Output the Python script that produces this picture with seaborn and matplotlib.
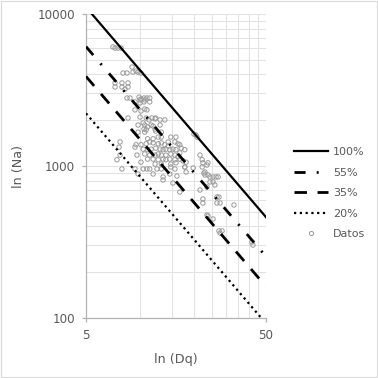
import matplotlib
matplotlib.use("Agg")
import matplotlib.pyplot as plt
from matplotlib.lines import Line2D
from matplotlib.patches import Rectangle
from matplotlib.ticker import FixedLocator, NullFormatter, LogLocator
import seaborn as sns
import pandas as pd

# ---- data ----
line_x = [5, 50]
line_100 = [11100, 461]
line_55 = [6100, 254]
line_35 = [3885, 161]
line_20 = [2220, 92]

datos_x = [
    7.06, 7.25, 7.53, 7.83,
    9.01, 8.03, 8.45, 9.12, 9.48, 9.73, 10.1,
    7.25, 7.25, 7.92, 7.92, 8.56, 8.56, 8.24,
    8.45, 8.78, 9.85, 10.1, 10.5, 10.9, 11.3, 10.5, 11.3, 9.98, 9.36, 9.98, 10.6,
    9.36, 10.1, 10.6, 10.9,
    9.98, 10.8, 11.6, 12.1, 11.2, 12.9, 13.7, 8.56, 12.2,
    10.4, 10.5, 11.0, 11.8, 12.2, 9.73, 10.6, 11.5, 12.9, 10.8, 12.1, 13.1, 9.73, 10.6,
    12.6, 13.1, 14.8, 15.8, 11.0, 11.8, 14.3, 15.6, 16.2, 16.6, 9.48, 10.1, 10.8, 11.3, 11.8, 12.6, 13.1, 13.7, 14.3,
    10.4, 11.0, 11.5, 12.2, 12.9, 13.4, 13.9, 14.6, 15.2, 15.8, 16.9, 17.7,
    10.6, 11.3, 12.1, 12.6, 13.1, 13.9, 14.8, 15.6, 16.2,
    11.0, 11.8, 12.6, 13.4, 13.9, 14.6, 15.6, 16.6, 17.3, 18.0,
    10.1, 12.1, 13.1, 14.8, 15.8,
    9.36, 10.4, 13.1, 14.8, 15.6, 17.7, 7.92, 10.9, 11.3, 12.4,
    9.73, 11.8, 14.6, 18.0, 13.4, 13.4, 16.0, 15.2, 16.6,
    7.73, 7.63, 7.73, 7.43, 9.36, 9.60, 16.6,
    19.9, 20.4, 20.7,
    21.5, 22.1, 22.3, 23.8, 23.5, 22.1, 17.7, 19.7,
    22.9, 22.6, 22.9, 23.8, 24.4, 25.4, 26.4, 27.1, 24.4, 25.4, 23.5, 26.0, 21.5,
    26.7, 27.4, 26.7, 27.8, 22.3, 22.3, 33.2,
    23.5, 23.8, 25.4, 27.4, 28.5, 27.8, 41.8, 42.3,
]
datos_y = [
    6070, 5970, 5970, 5970,
    4480, 4090, 4090, 4150, 4220, 4150, 4090,
    3520, 3310, 3520, 3310, 3520, 3310, 3210,
    2800, 2800, 2840, 2760, 2800, 2800, 2800, 2640, 2640, 2600, 2640, 2720, 2720,
    2340, 2300, 2370, 2340,
    2100, 2070, 2070, 2040, 2010, 2010, 2010, 2070, 2070,
    1920, 1750, 1810, 1830, 1700, 1860, 1860, 1860, 1860, 1730, 1750, 1670, 1670, 1670,
    1550, 1550, 1550, 1550, 1510, 1510, 1440, 1440, 1400, 1380, 1380, 1380, 1400, 1440, 1420, 1400, 1420, 1380, 1350,
    1290, 1280, 1290, 1310, 1290, 1280, 1290, 1280, 1290, 1280, 1310, 1280,
    1200, 1180, 1180, 1200, 1180, 1180, 1200, 1180, 1150,
    1110, 1110, 1100, 1110, 1100, 1110, 1100, 1110, 1080, 1060,
    1060, 1030, 1030, 1030, 1050,
    956, 956, 956, 985, 956, 985, 956, 956, 956, 956,
    886, 886, 886, 913, 847, 809, 859, 773, 674,
    1440, 1330, 1180, 1100, 1330, 1180, 1220,
    1620, 1600, 1550,
    1180, 1100, 1050, 1050, 1015, 985, 985, 970,
    913, 899, 873, 873, 847, 847, 847, 847, 785, 785, 727, 750, 695,
    625, 625, 571, 571, 607, 571, 554,
    476, 469, 448, 374, 374, 362, 316, 302,
]

series_labels = ["100%", "55%", "35%", "20%", "Datos"]
x_ticks = [5, 50]
y_ticks = [100, 1000, 10000]

# ---- styling ----
TXT = "#595959"
GRID = "#e2e2e2"
AXC = "#b3b3b3"
PT_C = "#9a9a9a"

line_styles = {
    "100%": (1.6, None),
    "55%": (2.0, (4.0, 4.0, 0.7, 4.0)),
    "35%": (2.0, (4.5, 3.8)),
    "20%": (1.6, (1.0, 1.6)),
}

fig = plt.figure(figsize=(3.78, 3.78), dpi=100)
ax = fig.add_axes([86 / 378, 1 - 318 / 378, 180 / 378, 304 / 378])
ax.set_xscale("log")
ax.set_yscale("log")

lines_y = {"100%": line_100, "55%": line_55, "35%": line_35, "20%": line_20}
handles = []
for lab, ys in lines_y.items():
    lw, d = line_styles[lab]
    df = pd.DataFrame({"x": line_x, "y": ys})
    sns.lineplot(data=df, x="x", y="y", ax=ax, color="black", linewidth=lw,
                 zorder=3, legend=False)
    ln = ax.lines[-1]
    h = Line2D([0], [0], color="black", linewidth=lw)
    if d is not None:
        for obj in (ln, h):
            obj.set_dashes(d)
            obj.set_dash_capstyle("butt")
    handles.append(h)

sns.scatterplot(x=datos_x, y=datos_y, ax=ax, marker="o", s=10, zorder=2,
                legend=False)
coll = ax.collections[-1]
coll.set_facecolor("none")
coll.set_edgecolor(PT_C)
coll.set_linewidth(0.7)
handles.append(Line2D([0], [0], linestyle="none", marker="o", markersize=3,
                      markerfacecolor="none", markeredgecolor=PT_C,
                      markeredgewidth=0.7))

ax.set_xlim(5, 50)
ax.set_ylim(100, 10000)

ax.xaxis.set_major_locator(FixedLocator(x_ticks))
ax.set_xticklabels([str(v) for v in x_ticks])
ax.xaxis.set_minor_locator(FixedLocator([10, 15, 20, 25, 30, 35, 40, 45]))
ax.xaxis.set_minor_formatter(NullFormatter())
ax.yaxis.set_major_locator(FixedLocator(y_ticks))
ax.set_yticklabels([str(v) for v in y_ticks])
ax.yaxis.set_minor_locator(LogLocator(base=10, subs=range(2, 10)))
ax.yaxis.set_minor_formatter(NullFormatter())

ax.grid(True, which="both", color=GRID, linewidth=0.75)
ax.set_axisbelow(True)
for s in ["top", "right"]:
    ax.spines[s].set_visible(False)
for s in ["left", "bottom"]:
    ax.spines[s].set_color(AXC)
    ax.spines[s].set_linewidth(0.9)
ax.tick_params(which="major", length=3, width=0.9, color=AXC, labelsize=8.6,
               labelcolor=TXT, pad=5)
ax.tick_params(which="minor", length=0)

ax.set_xlabel("ln (Dq)", fontsize=9.2, color=TXT)
ax.set_ylabel("ln (Na)", fontsize=9.2, color=TXT)
ax.xaxis.set_label_coords(0.5, -(353 - 318) / 304)
ax.yaxis.set_label_coords((25 - 86) / 180, 0.5)

fig.legend(handles, series_labels, loc="upper left",
           bbox_to_anchor=(294 / 378, 1 - 147 / 378), frameon=False,
           borderpad=0, borderaxespad=0, handlelength=3.05,
           handletextpad=0.45, labelspacing=0.95,
           prop={"size": 8}, labelcolor=TXT)

fig.add_artist(Rectangle((0.002, 0.002), 0.995, 0.995,
                         transform=fig.transFigure, fill=False,
                         edgecolor="#d9d9d9", linewidth=0.8))

fig.savefig("out.png", dpi=100)
